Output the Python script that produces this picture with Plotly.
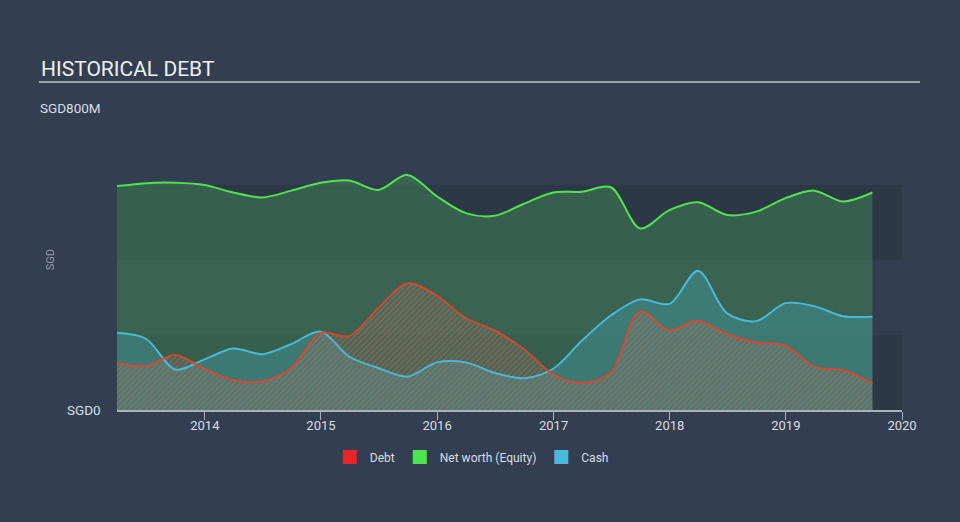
import plotly.graph_objects as go

dates = ["2013-03-31", "2013-06-30", "2013-09-30", "2013-12-31",
         "2014-03-31", "2014-06-30", "2014-09-30", "2014-12-31",
         "2015-03-31", "2015-06-30", "2015-09-30", "2015-12-31",
         "2016-03-31", "2016-06-30", "2016-09-30", "2016-12-31",
         "2017-03-31", "2017-06-30", "2017-09-30", "2017-12-31",
         "2018-03-31", "2018-06-30", "2018-09-30", "2018-12-31",
         "2019-03-31", "2019-06-30", "2019-09-30"]

equity = [597, 605, 606, 600, 580, 567, 585, 606, 612, 587, 627, 570,
          525, 518, 550, 580, 582, 594, 484, 533, 554, 520, 529, 565,
          585, 556, 580]

cash = [206, 190, 108, 135, 164, 149, 176, 209, 142, 112, 89, 127,
        127, 99, 85, 110, 185, 252, 295, 283, 371, 258, 237, 285,
        277, 250, 249]

debt = [126, 117, 147, 110, 80, 76, 112, 205, 197, 272, 338, 305,
        245, 212, 162, 95, 72, 100, 262, 212, 238, 202, 180, 172,
        115, 106, 71]

year_ticks = ["2014", "2015", "2016", "2017", "2018", "2019", "2020"]

BG = "#333f50"
BAND = "#2d3847"
GREEN = "#4fe34f"
BLUE = "#4ab8db"
RED = "#e8442a"
TXT = "#d8dde3"

fig = go.Figure()

SM = 0.9
# fills
fig.add_trace(go.Scatter(x=dates, y=equity, mode="lines", line=dict(width=0, shape="spline", smoothing=SM),
                         fill="tozeroy", fillcolor="rgba(70,150,85,0.42)", showlegend=False, hoverinfo="skip"))
fig.add_trace(go.Scatter(x=dates, y=cash, mode="lines", line=dict(width=0, shape="spline", smoothing=SM),
                         fill="tozeroy", fillcolor="rgba(70,175,190,0.33)", showlegend=False, hoverinfo="skip"))
fig.add_trace(go.Scatter(x=dates, y=debt, mode="lines", line=dict(width=0, shape="spline", smoothing=SM),
                         fill="tozeroy", fillcolor="rgba(0,0,0,0)",
                         fillpattern=dict(shape="/", fgcolor="rgba(230,105,70,0.8)", bgcolor="rgba(120,120,120,0.25)",
                                          size=4, solidity=0.35),
                         showlegend=False, hoverinfo="skip"))
# lines
fig.add_trace(go.Scatter(x=dates, y=equity, mode="lines", line=dict(color=GREEN, width=2, shape="spline", smoothing=SM),
                         showlegend=False))
fig.add_trace(go.Scatter(x=dates, y=cash, mode="lines", line=dict(color=BLUE, width=2, shape="spline", smoothing=SM),
                         showlegend=False))
fig.add_trace(go.Scatter(x=dates, y=debt, mode="lines", line=dict(color=RED, width=2, shape="spline", smoothing=SM),
                         opacity=0.85, showlegend=False))

# legend entries
for name, col in [("Debt", "#e8262a"), ("Net worth (Equity)", GREEN), ("Cash", BLUE)]:
    fig.add_trace(go.Scatter(x=[None], y=[None], mode="markers", name=name,
                             marker=dict(symbol="square", size=14, color=col)))

shapes = [
    dict(type="rect", xref="paper", yref="y", x0=0, x1=1, y0=0, y1=200, fillcolor=BAND, line_width=0, layer="below"),
    dict(type="rect", xref="paper", yref="y", x0=0, x1=1, y0=200, y1=400, fillcolor="#323e4f", line_width=0, layer="below"),
    dict(type="rect", xref="paper", yref="y", x0=0, x1=1, y0=400, y1=600, fillcolor=BAND, line_width=0, layer="below"),
    dict(type="line", xref="paper", yref="paper", x0=-0.0994, x1=1.0229, y0=1.0933, y1=1.0933,
         line=dict(color="#9aa3ad", width=2)),
]

annotations = [
    dict(text="HISTORICAL DEBT", xref="paper", yref="paper", x=-0.0994, y=1.1367, xanchor="left", yanchor="middle",
         showarrow=False, font=dict(size=21, color="#eef0f2", family="Roboto")),
    dict(text="SGD800M", xref="paper", yref="paper", x=-0.0178, y=1.0067, xanchor="right", yanchor="middle",
         showarrow=False, font=dict(size=13.5, color=TXT, family="Roboto")),
    dict(text="SGD0", xref="paper", yref="paper", x=-0.0178, y=0.0, xanchor="right", yanchor="middle",
         showarrow=False, font=dict(size=13.5, color=TXT, family="Roboto")),
    dict(text="SGD", xref="paper", yref="paper", x=-0.085, y=0.5, xanchor="center", yanchor="middle", textangle=-90,
         showarrow=False, font=dict(size=11, color="rgba(216,221,227,0.6)", family="Roboto")),
]

fig.update_layout(
    width=960, height=522,
    paper_bgcolor=BG, plot_bgcolor=BG,
    margin=dict(l=117, r=58, t=110, b=112),
    font=dict(family="Roboto", color=TXT),
    shapes=shapes, annotations=annotations,
    showlegend=True,
    legend=dict(orientation="h", x=0.452, y=-0.157, xanchor="center", yanchor="middle",
                font=dict(size=12, color=TXT), bgcolor="rgba(0,0,0,0)", itemwidth=30),
)
fig.update_xaxes(type="date", range=["2013-03-31", "2020-01-01"],
                 tickvals=[f"{y}-01-01" for y in year_ticks], ticktext=year_ticks,
                 showgrid=False, zeroline=False, showline=True, linecolor="#a8b1bc", linewidth=2,
                 ticks="outside", ticklen=8, tickcolor="#a8b1bc", tickwidth=1,
                 ticklabelstandoff=-6,
                 tickfont=dict(size=13, color=TXT))
fig.update_yaxes(range=[0, 800], showgrid=False, zeroline=False, showticklabels=False, showline=False)

fig.write_html("out.html", config={"displayModeBar": False},
               post_script="document.body.style.margin='0';document.body.style.background='#333f50';")
